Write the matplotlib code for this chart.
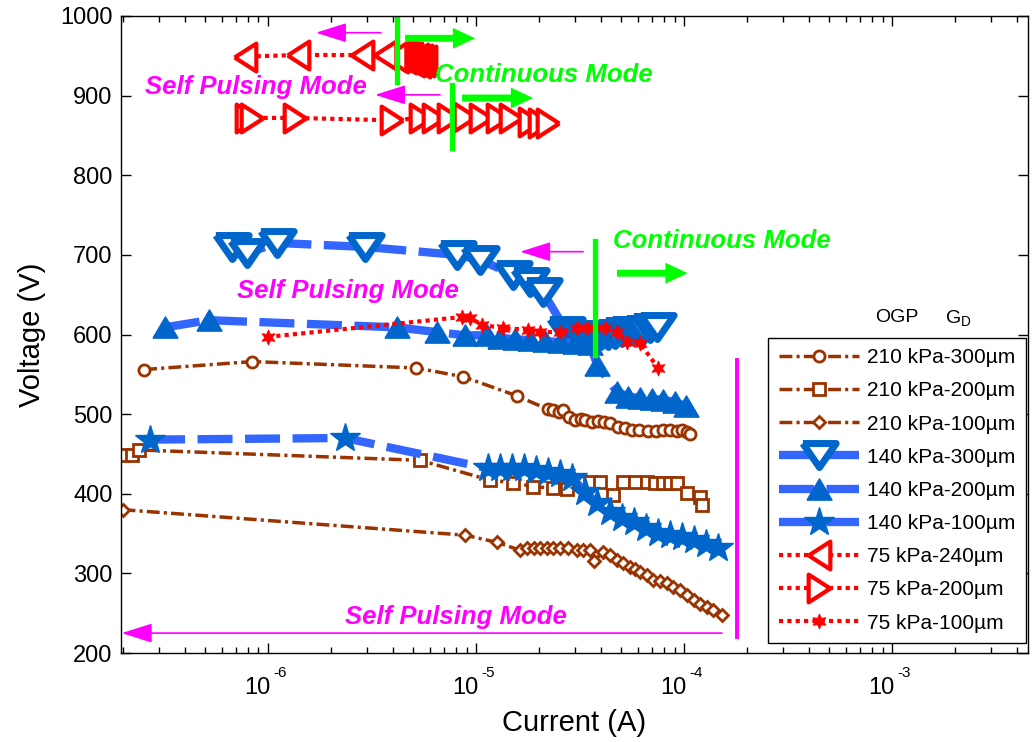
import numpy as np
import matplotlib
matplotlib.use('Agg')
import matplotlib.pyplot as plt
from matplotlib.ticker import FixedLocator, LogLocator, NullFormatter

# Fuente tipo Arial para todo el gráfico
plt.rcParams['font.family'] = ['Liberation Sans', 'DejaVu Sans']
plt.rcParams['mathtext.fontset'] = 'custom'
plt.rcParams['mathtext.rm'] = 'Liberation Sans'
plt.rcParams['mathtext.it'] = 'Liberation Sans:italic'
plt.rcParams['mathtext.bf'] = 'Liberation Sans:bold'
plt.rcParams['mathtext.default'] = 'regular'

# Curvas V-I (corriente en A, voltaje en V)
i_210_300 = [2.54e-7, 8.4e-7, 5.15e-6, 8.66e-6, 1.57e-5, 2.22e-5, 2.35e-5, 2.5e-5, 2.62e-5, 2.8e-5, 3.0e-5,
             3.2e-5, 3.35e-5, 3.6e-5, 3.86e-5, 4.1e-5, 4.4e-5, 4.8e-5, 5.2e-5, 5.6e-5, 6.1e-5, 6.7e-5,
             7.3e-5, 7.9e-5, 8.6e-5, 9.2e-5, 9.8e-5, 1.03e-4, 1.07e-4]
v_210_300 = [556, 566, 558, 547, 523, 506, 505, 503, 505, 496, 492,
             494, 493, 490, 491, 490, 489, 484, 482, 480, 480, 479,
             479, 480, 480, 479, 480, 477, 475]

i_210_200 = [2.01e-7, 2.22e-7, 2.4e-7, 5.38e-6, 1.17e-5, 1.51e-5, 1.88e-5, 2.35e-5, 2.74e-5, 3.16e-5,
             3.53e-5, 3.94e-5, 4.56e-5, 5.09e-5, 5.81e-5, 6.64e-5, 7.23e-5, 7.93e-5, 8.57e-5, 9.25e-5,
             1.03e-4, 1.19e-4, 1.22e-4]
v_210_200 = [449, 449, 455, 442, 417, 414, 409, 407, 406, 415,
             415, 415, 398, 415, 415, 415, 414, 414, 414, 414,
             401, 396, 386]

i_210_100 = [2.0e-7, 8.85e-6, 1.26e-5, 1.63e-5, 1.75e-5, 1.89e-5, 2.03e-5, 2.19e-5, 2.35e-5, 2.53e-5,
             2.78e-5, 3.05e-5, 3.28e-5, 3.53e-5, 3.67e-5, 4.09e-5, 4.41e-5, 4.75e-5, 5.11e-5, 5.5e-5,
             5.81e-5, 6.15e-5, 6.62e-5, 7.12e-5, 7.67e-5, 8.26e-5, 8.89e-5, 9.57e-5, 1.03e-4, 1.11e-4,
             1.19e-4, 1.29e-4, 1.38e-4, 1.52e-4]
v_210_100 = [380, 348, 339, 329, 332, 332, 332, 332, 332, 332,
             332, 329, 329, 329, 315, 327, 323, 317, 313, 308,
             306, 302, 298, 292, 290, 288, 283, 279, 273, 267,
             262, 258, 254, 248]

i_140_300 = [6.71e-7, 7.92e-7, 1.10e-6, 2.92e-6, 8.11e-6, 1.04e-5, 1.51e-5, 1.82e-5, 2.10e-5, 2.71e-5,
             2.93e-5, 3.16e-5, 3.42e-5, 3.69e-5, 3.99e-5, 4.31e-5, 4.66e-5, 5.04e-5, 5.44e-5, 5.88e-5,
             6.35e-5, 6.87e-5, 7.42e-5]
v_140_300 = [710, 702, 715, 710, 700, 694, 675, 666, 653, 605,
             598, 597, 597, 598, 599, 600, 601, 603, 604, 605,
             606, 608, 610]

i_140_200 = [3.2e-7, 5.2e-7, 4.17e-6, 6.49e-6, 8.85e-6, 1.13e-5, 1.30e-5, 1.54e-5, 1.82e-5, 2.15e-5, 2.54e-5,
             2.99e-5, 3.53e-5, 3.82e-5, 4.76e-5, 5.38e-5, 6.14e-5, 7.01e-5, 7.93e-5, 9.05e-5, 1.02e-4]
v_140_200 = [609, 618, 609, 603, 599, 599, 596, 594, 593, 592, 590, 589, 588, 562, 528, 522, 520, 519, 518, 515, 510]

i_140_100 = [2.71e-7, 2.34e-6, 1.14e-5, 1.30e-5, 1.49e-5, 1.70e-5, 1.94e-5, 2.22e-5, 2.54e-5, 2.90e-5, 3.34e-5,
             3.82e-5, 4.41e-5, 5.04e-5, 5.75e-5, 6.57e-5, 7.50e-5, 8.57e-5, 9.78e-5, 1.12e-4, 1.28e-4, 1.46e-4]
v_140_100 = [468, 470, 432, 432, 432, 432, 430, 427, 425, 420, 402, 388, 377, 370, 365, 357, 351, 348, 346, 342, 337, 332]

# Esta serie se midió de mayor a menor corriente
i_75_240 = [5.69e-6, 5.56e-6, 5.44e-6, 5.32e-6, 5.20e-6, 5.09e-6, 4.98e-6, 4.87e-6, 4.76e-6, 4.66e-6,
            4.56e-6, 4.46e-6, 4.36e-6, 4.26e-6, 4.17e-6, 4.08e-6, 3.65e-6, 2.83e-6, 1.39e-6, 7.75e-7]
v_75_240 = [945, 942, 946, 941, 947, 943, 942, 948, 945, 950,
            946, 952, 948, 951, 947, 949, 951, 951, 951, 949]

i_75_200 = [7.92e-7, 8.38e-7, 1.35e-6, 3.95e-6, 5.44e-6, 6.28e-6, 7.42e-6, 8.85e-6, 1.06e-5, 1.28e-5,
            1.47e-5, 1.82e-5, 2.03e-5, 2.22e-5]
v_75_200 = [872, 872, 872, 869, 872, 872, 872, 873, 872, 872, 872, 867, 866, 866]

i_75_100 = [1.0e-6, 8.57e-6, 9.36e-6, 1.07e-5, 1.35e-5, 1.78e-5, 2.03e-5, 2.54e-5, 3.06e-5, 3.42e-5,
            4.17e-5, 4.76e-5, 5.32e-5, 6.14e-5, 7.50e-5]
v_75_100 = [597, 622, 621, 612, 608, 606, 603, 603, 608, 608, 608, 603, 591, 589, 558]

etiquetas = ['210 kPa-300µm', '210 kPa-200µm', '210 kPa-100µm',
             '140 kPa-300µm', '140 kPa-200µm', '140 kPa-100µm',
             '75 kPa-240µm', '75 kPa-200µm', '75 kPa-100µm']
ticks_x = [1e-6, 1e-5, 1e-4, 1e-3]
exponentes_x = ['-6', '-5', '-4', '-3']

# Colores
cafe = '#993300'
azul_linea = '#3366FF'
azul_marca = '#0066CC'
rojo = '#FF0000'
verde = '#00FF00'
magenta = '#FF00FF'

# Marcadores triangulares (más anchos que altos)
tri_abajo = [(-1, 0.72), (1, 0.72), (0, -0.72), (-1, 0.72)]
tri_arriba = [(-1, -0.85), (1, -0.85), (0, 0.85), (-1, -0.85)]
tri_izq = [(-0.78, 0), (0.78, 1), (0.78, -1), (-0.78, 0)]
tri_der = [(0.78, 0), (-0.78, 1), (-0.78, -1), (0.78, 0)]

ls_cafe = (0, (3.7, 1.2, 0.9, 1.2))
ls_azul = (0, (4.2, 1.5))
ls_rojo = (0, (1, 1))

fig = plt.figure(figsize=(10.34, 7.42), dpi=100)
ax = fig.add_axes([121 / 1034, 1 - 653 / 742, (1028 - 121) / 1034, (653 - 16) / 742])

ax.plot(i_210_300, v_210_300, color=cafe, ls=ls_cafe, lw=2.5, marker='o', ms=8, mew=2,
        mfc='white', mec=cafe, label=etiquetas[0])
ax.plot(i_210_200, v_210_200, color=cafe, ls=ls_cafe, lw=2.5, marker='s', ms=8, mew=2,
        mfc='white', mec=cafe, label=etiquetas[1])
ax.plot(i_210_100, v_210_100, color=cafe, ls=ls_cafe, lw=2.5, marker='D', ms=6.5, mew=2,
        mfc='white', mec=cafe, label=etiquetas[2])
ax.plot(i_140_300, v_140_300, color=azul_linea, ls=ls_azul, lw=6, marker=tri_abajo, ms=24, mew=5,
        mfc='white', mec=azul_marca, label=etiquetas[3])
ax.plot(i_140_200, v_140_200, color=azul_linea, ls=ls_azul, lw=6, marker=tri_arriba, ms=18, mew=1,
        mfc=azul_marca, mec=azul_marca, label=etiquetas[4])
ax.plot(i_140_100, v_140_100, color=azul_linea, ls=ls_azul, lw=6, marker='*', ms=22, mew=1,
        mfc=azul_marca, mec=azul_marca, label=etiquetas[5])
ax.plot(i_75_240, v_75_240, color=rojo, ls=ls_rojo, lw=3, marker=tri_izq, ms=20, mew=3,
        mfc='white', mec=rojo, label=etiquetas[6])
ax.plot(i_75_200, v_75_200, color=rojo, ls=ls_rojo, lw=3, marker=tri_der, ms=20, mew=3,
        mfc='white', mec=rojo, label=etiquetas[7])
ax.plot(i_75_100, v_75_100, color=rojo, ls=ls_rojo, lw=3, marker=(6, 1, 0), ms=11, mew=0.5,
        mfc=rojo, mec=rojo, label=etiquetas[8])


# Función para dibujar flechas horizontales
def flecha(x0, x1, y, color, estilo, lw):
    ax.annotate('', xy=(x1, y), xytext=(x0, y),
                arrowprops=dict(arrowstyle=estilo, color=color, lw=lw,
                                shrinkA=0, shrinkB=0, mutation_scale=10))


flecha_verde = 'simple,head_length=1.6,head_width=1.5,tail_width=0.5'
flecha_magenta = '-|>,head_length=1.9,head_width=0.6'

# Zona superior (75 kPa)
flecha(3.49e-6, 1.70e-6, 979, magenta, flecha_magenta, 1.2)
ax.plot([4.17e-6, 4.17e-6], [999, 917], color=verde, lw=3.8)
flecha(4.56e-6, 9.9e-6, 972, verde, flecha_verde, 0)
flecha(6.71e-6, 3.27e-6, 901, magenta, flecha_magenta, 1.2)
ax.plot([7.67e-6, 7.67e-6], [913, 834], color=verde, lw=3.8)
flecha(8.57e-6, 1.88e-5, 897, verde, flecha_verde, 0)

# Zona media (140 kPa)
flecha(3.27e-5, 1.63e-5, 704, magenta, flecha_magenta, 1.2)
ax.plot([3.73e-5, 3.73e-5], [717, 574], color=verde, lw=3.8)
flecha(4.76e-5, 1.04e-4, 677, verde, flecha_verde, 0)

# Zona inferior (210 kPa)
ax.plot([1.80e-4, 1.80e-4], [568, 220], color=magenta, lw=2.8)
flecha(1.52e-4, 1.98e-7, 225, magenta, flecha_magenta, 1.2)

estilo_txt = dict(fontsize=18.5, fontweight='bold', fontstyle='italic', va='center', ha='left')
ax.text(6.35e-6, 926, 'Continuous Mode', color=verde, **estilo_txt)
ax.text(4.56e-5, 717, 'Continuous Mode', color=verde, **estilo_txt)
ax.text(2.56e-7, 911, 'Self Pulsing Mode', color=magenta, **estilo_txt)
ax.text(7.1e-7, 655, 'Self Pulsing Mode', color=magenta, **estilo_txt)
ax.text(2.34e-6, 245, 'Self Pulsing Mode', color=magenta, **estilo_txt)

# Ejes
ax.set_xscale('log')
ax.set_xlim(1.965e-7, 4.5e-3)
ax.set_ylim(200, 1000)
ax.set_yticks(range(200, 1001, 100))
ax.xaxis.set_major_locator(FixedLocator(ticks_x))
ax.xaxis.set_major_formatter(NullFormatter())
ax.xaxis.set_minor_locator(LogLocator(base=10, subs=np.arange(2, 10), numticks=20))
ax.xaxis.set_minor_formatter(NullFormatter())
ax.tick_params(which='both', direction='in', top=True, right=True, labelsize=17, width=1)
ax.tick_params(which='major', length=7)
ax.tick_params(which='minor', length=4)
ax.tick_params(axis='y', pad=6)
for s in ax.spines.values():
    s.set_linewidth(1)

# Etiquetas del eje x como base 10 con exponente aparte
trans_x = ax.get_xaxis_transform()
for t, e in zip(ticks_x, exponentes_x):
    ax.annotate('10', xy=(t, 0), xycoords=trans_x, xytext=(1.5, -25.5), textcoords='offset points',
                ha='right', va='center', fontsize=17)
    ax.annotate(e, xy=(t, 0), xycoords=trans_x, xytext=(4, -14.5), textcoords='offset points',
                ha='left', va='center', fontsize=11)

ax.set_xlabel('Current (A)', fontsize=21)
ax.xaxis.set_label_coords(0.5, -0.088)
ax.set_ylabel('Voltage (V)', fontsize=21, labelpad=10)

# Leyenda
leg = ax.legend(loc='lower right', bbox_to_anchor=(1026 / 1034, 1 - 643 / 742),
                bbox_transform=fig.transFigure, fontsize=15, handlelength=3.85,
                handletextpad=0.4, labelspacing=0.68, borderpad=0.5, borderaxespad=0,
                fancybox=False, framealpha=1, edgecolor='black', numpoints=1)
leg.get_frame().set_linewidth(1.0)

fig.text(897 / 1034, 1 - 318 / 742, 'OGP', fontsize=14, ha='center', va='center')
fig.text(958 / 1034, 1 - 318 / 742, 'G$_D$', fontsize=14, ha='center', va='center')

plt.savefig('out.png', dpi=100)
